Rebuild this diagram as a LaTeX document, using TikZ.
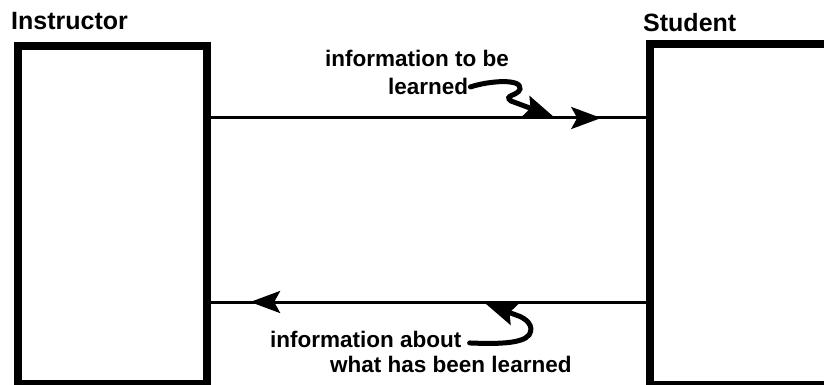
\documentclass[tikz,border=0pt]{standalone}
\usepackage{fontspec}
\setmainfont{Liberation Sans}
\usetikzlibrary{arrows.meta,decorations.markings}
\begin{document}
\begin{tikzpicture}[x=1pt,y=-1pt,
  boxstyle/.style={draw=black,line width=8pt,inner sep=0pt,anchor=north west},
  headtext/.style={anchor=base west,inner sep=0pt,font=\fontsize{25}{28}\bfseries\selectfont},
  labeltext/.style={anchor=base west,inner sep=0pt,font=\fontsize{22.5}{26}\bfseries\selectfont},
  mainline/.style={line width=3pt},
  curlyarrow/.style={line width=5pt,line cap=round,-{Stealth[length=30pt,width=22pt,inset=5pt]}},
  midarrow/.style={postaction={decorate},decoration={markings,mark=at position #1 with {\arrow{Stealth[length=30pt,width=22pt,inset=6pt]}}}}
]
\useasboundingbox (0,0) rectangle (824,385);
\clip (0,0) rectangle (824,385);
\fill[white] (0,0) rectangle (824,385);

% boxes
\node[boxstyle,minimum width=189pt,minimum height=338pt] (instr) at (14,42) {};
\node[boxstyle,minimum width=220pt,minimum height=341pt] (stud) at (646,40) {};

% headings
\node[headtext] (hinstr) at (11,30) {Instructor};
\node[headtext] (hstud) at (643,32) {Student};

% rows
\coordinate (ty) at (0,118);
\coordinate (by) at (0,302);

\draw[mainline,midarrow=0.897] (instr.east |- ty) -- (stud.west |- ty);
\draw[mainline,midarrow=0.91] (stud.west |- by) -- (instr.east |- by);

% labels
\node[labeltext] (l1a) at (325,67) {information to be};
\node[labeltext] (l1b) at (388,95) {learned};
\node[labeltext] (l2a) at (270,347) {information about};
\node[labeltext] (l2b) at (330,372) {what has been learned};

% curly arrows
\coordinate (tip1) at (554,117);
\coordinate (tip2) at (486,304);
\draw[curlyarrow] ([xshift=2pt]l1b.east) .. controls (488,81) and (522,78) .. (520,89)
   .. controls (518,96) and (503,95) .. (511,101) -- (tip1);
\draw[curlyarrow] ([shift={(8pt,-4pt)}]l2a.east) .. controls (495,344) and (522,344) .. (529,335)
   .. controls (535,326) and (526,318) .. (516,315) -- (tip2);
\end{tikzpicture}
\end{document}
